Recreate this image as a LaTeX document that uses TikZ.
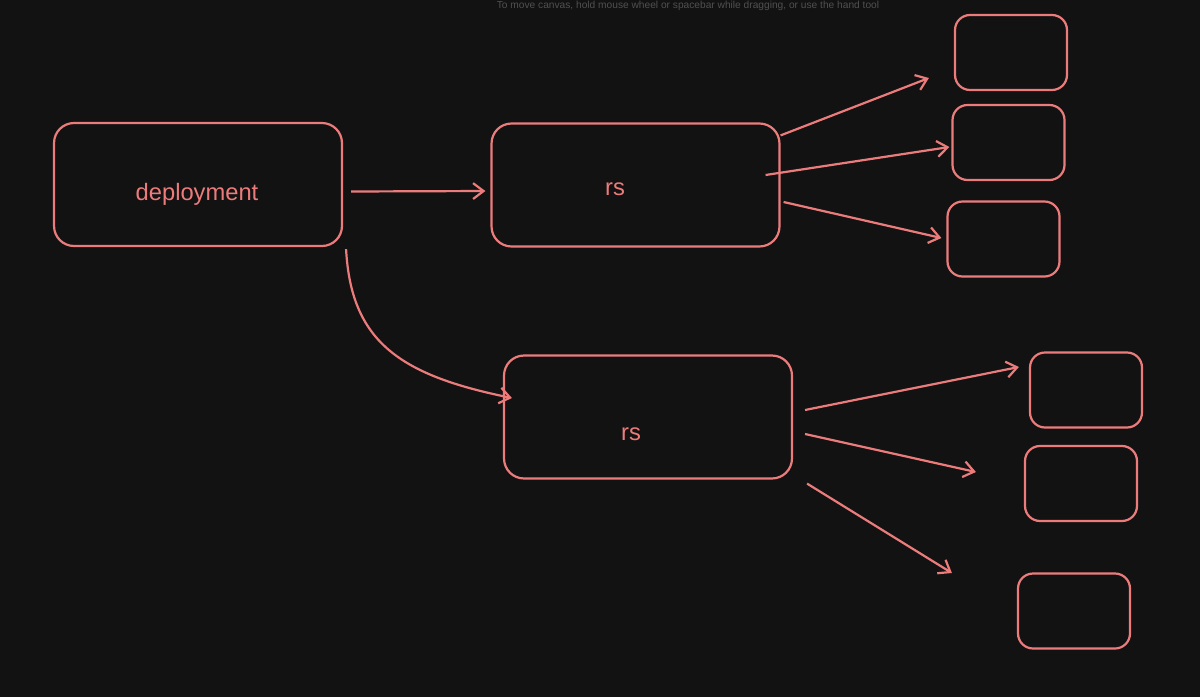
\documentclass[tikz,border=0pt]{standalone}
\usepackage{fontspec}
\setmainfont{Liberation Sans}
\usetikzlibrary{arrows.meta,positioning}
\definecolor{sketchred}{RGB}{236,124,124}
\definecolor{canvas}{RGB}{18,18,18}
\definecolor{hintgray}{RGB}{80,80,80}

\begin{document}
\begin{tikzpicture}[x=0.02cm,y=-0.02cm,>={Straight Barb[length=6pt,width=9pt]},
    bigbox/.style={draw=sketchred,line width=1.25pt,rounded corners=0.4cm,
      minimum width=5.76cm,minimum height=2.46cm},
    podbox/.style={draw=sketchred,line width=1.25pt,rounded corners=0.3cm,
      minimum width=2.24cm,minimum height=1.5cm},
    lbl/.style={text=sketchred,font=\fontsize{13.5}{15}\selectfont},
    arr/.style={->,draw=sketchred,line width=1.25pt}]

  \fill[canvas] (0,0) rectangle (1200,697);
  \useasboundingbox (0,0) rectangle (1200,697);

  \node[text=hintgray,font=\fontsize{5.8}{6}\selectfont,inner sep=0pt,anchor=north] (hint) at (688,0.5) {To move canvas, hold mouse wheel or spacebar while dragging, or use the hand tool};

  % main boxes
  \node[bigbox] (dep) at (198,184.5) {};
  \node[bigbox] (rs1) at (635.5,185) {};
  \node[bigbox] (rs2) at (648,417) {};

  \node[lbl] (deplbl) at (197,194) {deployment};
  \node[lbl] (rs1lbl) at (615,189) {rs};
  \node[lbl] (rs2lbl) at (631,434) {rs};

  % pods
  \foreach \n/\x/\y in {1/1011/52.5, 2/1008.5/142.5, 3/1003.5/239,
                        4/1086/390, 5/1081/483.5, 6/1074/611}
    \node[podbox] (pod\n) at (\x,\y) {};

  % deployment -> rs
  \draw[arr] ([shift={(8,7)}]dep.east) -- ([shift={(-5,6)}]rs1.west);
  \draw[arr] ([shift={(3,2)}]dep.south east)
    .. controls +(5,92) and +(-113,-23) .. ([shift={(9,-19)}]rs2.west);

  % rs -> pods
  \draw[arr] ([shift={(0,13)}]rs1.north east) -- ([shift={(-25,25.5)}]pod1.west);
  \draw[arr] ([shift={(-15,-10)}]rs1.east) -- ([shift={(-2,4.5)}]pod2.west);
  \draw[arr] ([shift={(3,17)}]rs1.east) -- ([shift={(-5,-1)}]pod3.west);

  \draw[arr] ([shift={(12,-7)}]rs2.east) -- ([shift={(-10,-23)}]pod4.west);
  \draw[arr] ([shift={(12,17)}]rs2.east) -- ([shift={(-48,-11.5)}]pod5.west);
  \draw[arr] ([shift={(14,4)}]rs2.south east) -- ([shift={(-65,-38)}]pod6.west);
\end{tikzpicture}
\end{document}
